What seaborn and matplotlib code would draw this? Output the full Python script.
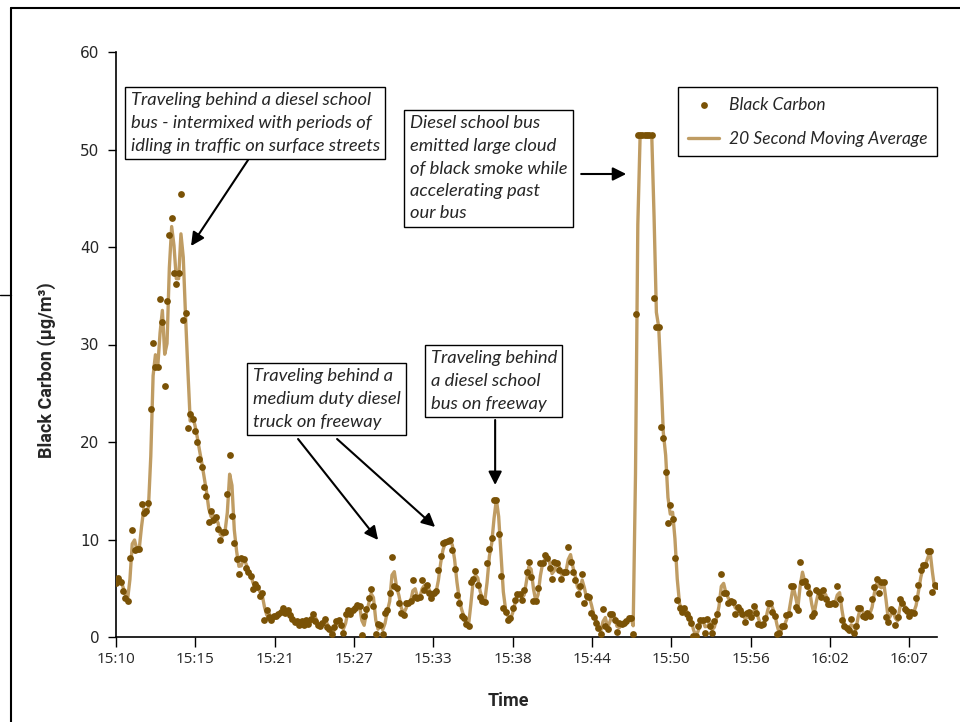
import numpy as np
import pandas as pd
import matplotlib.pyplot as plt
from matplotlib.lines import Line2D
import seaborn as sns

# black carbon readings (ug/m3), one every 10 seconds from 15:10
bc_city = [
    5.5, 6.1, 5.6, 4.7, 4.0, 3.7, 8.1, 11.0, 8.9, 9.0,
    9.0, 13.6, 12.7, 12.9, 13.7, 23.4, 30.2, 27.7, 27.7, 34.7,
    32.3, 25.7, 34.5, 41.2, 43.0, 37.3, 36.2, 37.3, 45.4, 32.5,
    33.2, 21.4, 22.9, 22.4, 21.1, 20.0, 18.3, 17.4, 15.4, 14.5,
    11.8, 12.9, 12.0, 12.3, 11.1, 9.9, 10.8, 10.8, 14.7, 18.7,
    12.4, 9.6, 8.0, 6.5, 8.1, 8.0, 7.1, 6.7, 6.3, 4.9,
    5.4, 5.1, 4.2,
]
bc_truck = [
    4.5, 1.7, 2.8, 2.1, 1.7, 2.2, 2.2, 2.4, 2.6, 3.0,
    2.5, 2.8, 2.3, 1.8, 1.5, 1.6, 1.2, 1.6, 1.2, 1.7,
    1.3, 1.8, 2.4, 1.6, 1.2, 1.1, 1.4, 1.8, 1.0, 0.8,
    0.3, 1.0, 1.6, 1.7, 1.2, 0.4, 2.4, 2.8, 2.4, 2.8,
    3.0, 3.3, 3.2, 0.2, 2.2, 2.9, 4.0, 4.9, 3.2, 0.3,
    1.3, 1.2, 0.3, 2.5, 2.8, 4.5, 8.2, 5.2, 5.0, 3.5,
    2.5, 2.3, 3.5, 3.5, 3.7, 5.8, 4.1, 4.0, 4.1, 5.8,
    4.8, 5.3, 4.5,
]
bc_freeway = [
    4.0, 4.5, 4.7, 6.9, 8.3, 9.6, 9.7, 9.8, 10.0, 8.9,
    7.0, 4.3, 3.5, 2.2, 2.0, 1.3, 1.1, 5.6, 5.9, 6.8,
    5.3, 4.1, 3.7, 3.6, 7.6, 9.0, 10.2, 14.1, 14.1, 10.6,
    6.3, 3.0, 2.6, 1.7, 1.9, 3.0, 3.8, 4.4, 4.4, 3.8,
    4.8, 6.7, 7.7, 6.2, 3.7, 3.7, 5.0, 7.6, 7.6, 8.4,
    8.1, 7.1, 5.9, 7.7, 7.6, 6.9, 6.0, 6.7, 6.7, 9.2,
    7.7, 6.7, 5.8, 4.4, 5.2, 6.5, 3.5, 4.2, 4.1, 2.5,
    2.1, 1.4, 0.9, 0.3, 2.9, 1.1, 0.8, 2.4, 2.4, 1.7,
    0.5, 1.4, 1.3,
]
bc_smoke = [
    1.4, 1.6, 2.0, 2.0, 0.3, 33.1, 51.5, 51.5, 51.5, 51.5,
    51.5, 51.5, 51.5, 34.8, 31.8, 31.8, 21.5, 20.4, 16.9, 11.7,
    13.5, 12.1, 8.1, 3.8, 3.0, 2.6, 3.0, 2.4, 2.0, 1.4,
    0.1, 0.1, 1.1, 1.7, 1.7,
]
bc_late = [
    0.4, 1.8, 1.1, 0.4, 1.6, 2.4, 3.9, 6.5, 4.5, 4.5,
    3.5, 3.7, 3.6, 2.4, 3.1, 2.8, 2.4, 1.5, 2.5, 2.6,
    2.1, 3.2, 2.5, 1.3, 1.2, 1.3, 2.0, 3.5, 3.5, 2.6,
    2.2, 0.3, 0.4, 1.1, 1.1, 2.3, 2.4, 5.2, 5.2, 3.1,
    2.8, 7.7, 5.6, 5.7, 5.2, 4.5, 2.2, 2.5, 4.8, 4.6,
    4.1, 4.8, 3.9, 3.4, 3.4, 3.5, 3.4, 5.2, 3.9, 1.7,
    1.1, 0.9, 0.7, 1.8, 0.4, 1.1, 3.0, 3.0, 2.2, 2.1,
    2.5, 2.2, 3.9, 5.1, 5.9, 4.5, 5.6, 5.6, 2.1, 1.5,
    2.9, 2.7, 1.2, 2.1, 3.9, 3.5, 2.9, 2.7, 2.2, 2.6,
    2.5, 4.0, 5.3, 6.9, 7.4, 7.4, 8.8, 8.8, 4.6, 5.3,
    5.2, 5.2,
]

tick_labels = ["15:10", "15:15", "15:21", "15:27", "15:33", "15:38",
               "15:44", "15:50", "15:56", "16:02", "16:07"]
tick_step = 5.7  # minutes between labelled ticks

dot_color = "#7a5206"
line_color = "#bf9c63"

values = bc_city + bc_truck + bc_freeway + bc_smoke + bc_late
df = pd.DataFrame({"minute": np.arange(len(values)) / 6.0, "bc": values})
# 20 second moving average = mean of two 10 s samples
df["ma"] = df["bc"].rolling(2, min_periods=1).mean()

sns.set_style("ticks")
plt.rcParams["font.family"] = ["DejaVu Sans"]

fig = plt.figure(figsize=(9.6, 7.22), dpi=100)
ax = fig.add_axes([116 / 960, 85 / 722, 821 / 960, 585 / 722])

sns.lineplot(data=df, x="minute", y="ma", color=line_color, lw=2.4,
             ax=ax, zorder=2, label="20 Second Moving Average")
sns.scatterplot(data=df, x="minute", y="bc", color=dot_color, s=24,
                linewidth=0, ax=ax, zorder=3, label="Black Carbon")

ax.set_xlim(0, 59.0)
ax.set_ylim(0, 60)
ax.set_yticks(range(0, 61, 10))
ax.set_xticks([i * tick_step for i in range(len(tick_labels))])
ax.set_xticklabels(tick_labels, fontfamily="Open Sans", fontsize=11)
ax.tick_params(axis="y", labelsize=11, length=6, width=1, color="black", pad=6)
ax.tick_params(axis="x", length=7, width=1, color="black", pad=4)
for s in ["top", "right"]:
    ax.spines[s].set_visible(False)
for s in ["left", "bottom"]:
    ax.spines[s].set_color("black")
    ax.spines[s].set_linewidth(1.2)

label_font = dict(family="Roboto", fontweight="bold", fontsize=13)
ax.set_xlabel("Time", **label_font)
ax.set_ylabel("Black Carbon (µg/m³)", **label_font)
ax.xaxis.set_label_coords(0.4775, -0.094)
ax.yaxis.set_label_coords(-0.073, 0.456)

# legend: dots first, then the line
h, l = ax.get_legend_handles_labels()
leg = ax.legend([h[1], h[0]], [l[1], l[0]], loc="upper right",
                bbox_to_anchor=(1.0, 0.94), borderaxespad=0, fancybox=False,
                edgecolor="black", framealpha=1, handlelength=1.8,
                borderpad=0.55, labelspacing=1.05, handletextpad=0.55,
                prop=dict(family="Lato", style="italic", size=12.5))
leg.get_frame().set_linewidth(1.0)


def px(x, y):
    # figure pixel -> data coordinates
    return (x - 116) / 13.91, (637 - y) / 9.75


note_font = dict(family="Lato", style="italic", fontsize=13.2,
                 linespacing=1.5, ha="left", va="top", zorder=5,
                 bbox=dict(boxstyle="square,pad=0.3", fc="white",
                           ec="black", lw=1.0))
notes = [
    ((130.5, 92.5), "Traveling behind a diesel school\nbus - intermixed with periods of\nidling in traffic on surface streets"),
    ((409.5, 115.5), "Diesel school bus\nemitted large cloud\nof black smoke while\naccelerating past\nour bus"),
    ((252.5, 368.5), "Traveling behind a\nmedium duty diesel\ntruck on freeway"),
    ((430.5, 350.5), "Traveling behind\na diesel school\nbus on freeway"),
]
for pos, txt in notes:
    ax.text(*px(*pos), txt, **note_font)

arrows = [
    ((248, 160), (191, 246)),
    ((581, 174), (626, 174)),
    ((298, 439), (378, 540)),
    ((337, 439), (435, 527)),
    ((495, 420), (495, 485)),
]
for start, end in arrows:
    ax.annotate("", xy=px(*end), xytext=px(*start), zorder=4,
                arrowprops=dict(arrowstyle="-|>", color="black", lw=1.5,
                                mutation_scale=20, shrinkA=0, shrinkB=0))

# outer frame pieces of the original page
fig.add_artist(Line2D([11 / 960, 11 / 960], [0, 1 - 8 / 722], color="black", lw=1.5))
fig.add_artist(Line2D([11 / 960, 1], [1 - 8 / 722, 1 - 8 / 722], color="black", lw=1.5))
fig.add_artist(Line2D([0, 11 / 960], [1 - 295 / 722, 1 - 295 / 722], color="black", lw=1.0))

fig.savefig("out.png", dpi=100)
